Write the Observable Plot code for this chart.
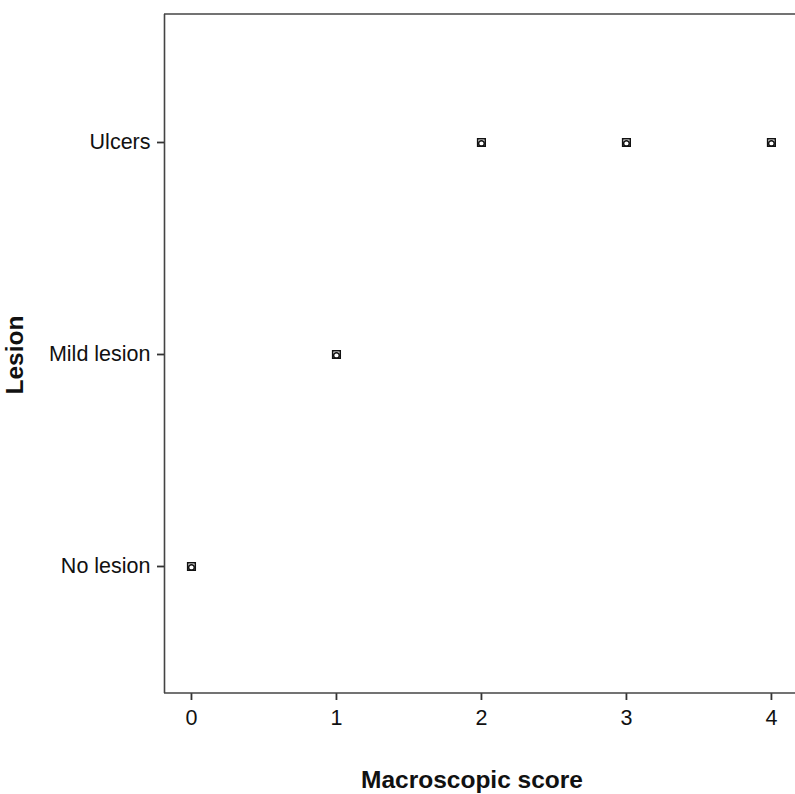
<!DOCTYPE html>
<html>
<head>
<meta charset="utf-8">
<script src="https://cdn.jsdelivr.net/npm/d3@7"></script>
<script src="https://cdn.jsdelivr.net/npm/@observablehq/plot@0.6"></script>
<style>
  html, body { margin: 0; padding: 0; background: #fff; }
  #chart { width: 795px; height: 794px; }
</style>
</head>
<body>
<div id="chart"></div>
<script>
const lesionCategories = ["Ulcers", "Mild lesion", "No lesion"];
const scores = [0, 1, 2, 3, 4];
const lesions = ["No lesion", "Mild lesion", "Ulcers", "Ulcers", "Ulcers"];
const xTicks = [0, 1, 2, 3, 4];

const data = scores.map((s, i) => ({score: s, lesion: lesions[i]}));

const plot = Plot.plot({
  width: 795,
  height: 794,
  marginLeft: 164,
  marginTop: 14,
  marginRight: 0,
  marginBottom: 101,
  style: {fontFamily: "Liberation Sans, Arial, sans-serif", fontSize: "21px", color: "#111"},
  x: {domain: [-0.186, 4.166], label: null},
  y: {type: "point", domain: lesionCategories, padding: 0.594, label: null},
  marks: [
    Plot.ruleX([-0.186], {stroke: "#444", strokeWidth: 1.6}),
    Plot.axisX({ticks: xTicks, tickFormat: d3.format("d"), tickSize: 7, tickPadding: 9, stroke: "#333", strokeWidth: 1.8, fontSize: 21.5, fill: "#111", label: null}),
    Plot.axisY({tickSize: 7, tickPadding: 7, stroke: "#333", strokeWidth: 1.8, fontSize: 21.5, fill: "#111", label: null}),
    Plot.dot(data, {x: "score", y: "lesion", symbol: "square", r: 4.3, stroke: "#111", strokeWidth: 1.5, fill: "none"}),
    Plot.dot(data, {x: "score", y: "lesion", symbol: "circle", r: 2.8, stroke: "#111", strokeWidth: 1.4, fill: "none", dy: 1})
  ]
});

const svg = d3.select(plot);
svg.append("line").attr("x1", 164).attr("x2", 795).attr("y1", 14).attr("y2", 14)
  .attr("stroke", "#444").attr("stroke-width", 1.6);
svg.append("line").attr("x1", 164).attr("x2", 795).attr("y1", 693).attr("y2", 693)
  .attr("stroke", "#444").attr("stroke-width", 1.6);
svg.append("text").attr("x", 472).attr("y", 788).attr("text-anchor", "middle")
  .attr("font-weight", "bold").attr("font-size", 24.5).attr("fill", "#111").text("Macroscopic score");
svg.append("text").attr("transform", "translate(23,355) rotate(-90)").attr("text-anchor", "middle")
  .attr("font-weight", "bold").attr("font-size", 24.5).attr("fill", "#111").text("Lesion");

document.getElementById("chart").appendChild(plot);
</script>
</body>
</html>
